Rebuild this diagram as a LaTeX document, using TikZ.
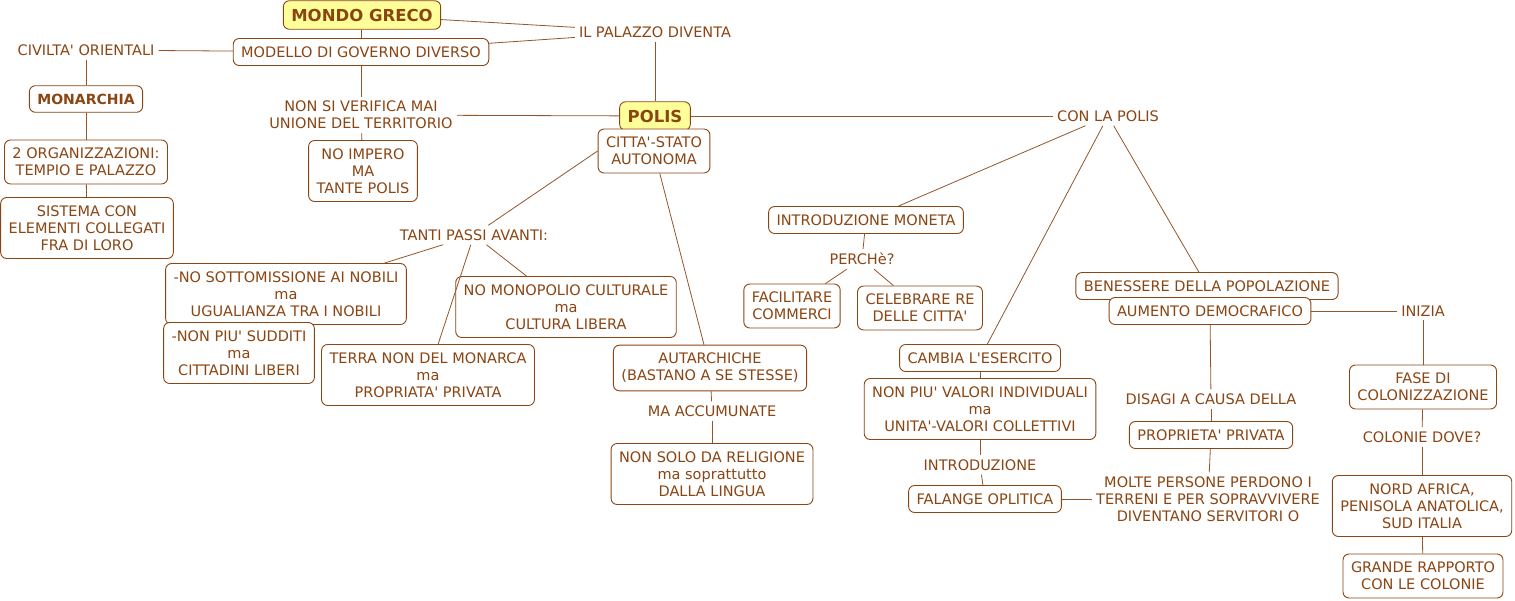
\documentclass[tikz,border=0pt]{standalone}
\usepackage{fontspec}
\setmainfont{DejaVu Sans}[Ligatures=TeXOff]
\usepackage{xcolor}
\usetikzlibrary{positioning}
\definecolor{marrone}{HTML}{8B4513}
\definecolor{filo}{HTML}{93552A}
\definecolor{giallo}{HTML}{FFFF99}

\begin{document}
\begin{tikzpicture}[x=1pt,y=-1pt,
    concetto/.style={draw=marrone,fill=white,rounded corners=6pt,line width=0.9pt,
               inner xsep=8pt,inner ysep=8pt,align=center,text=marrone,
               font=\fontsize{14.5}{17}\selectfont},
    radice/.style={concetto,fill=giallo,font=\fontsize{16.5}{19}\selectfont\bfseries},
    frase/.style={inner sep=4pt,align=center,text=marrone,
               font=\fontsize{14.5}{17}\selectfont},
    collega/.style={draw=filo,line width=0.8pt}]
  \useasboundingbox (0,0) rectangle (1515,600);

  % parte sinistra
  \node[radice] (mondo) at (362,15) {MONDO GRECO};
  \node[concetto] (modello) at (361,52) {MODELLO DI GOVERNO DIVERSO};
  \node[frase] (palazzo) at (655,32) {IL PALAZZO DIVENTA};
  \node[frase] (civilta) at (86,50) {CIVILTA' ORIENTALI};
  \node[concetto,font=\fontsize{14}{17}\selectfont\bfseries] (monarchia) at (86,99) {MONARCHIA};
  \node[concetto] (organiz) at (86,162) {2 ORGANIZZAZIONI:\\TEMPIO E PALAZZO};
  \node[concetto] (sistema) at (87,228) {SISTEMA CON\\ELEMENTI COLLEGATI\\FRA DI LORO};
  \node[frase] (verifica) at (361,115) {NON SI VERIFICA MAI\\UNIONE DEL TERRITORIO};
  \node[concetto] (impero) at (363,171) {NO IMPERO\\MA\\TANTE POLIS};

  % polis
  \node[radice] (polis) at (655,116) {POLIS};
  \node[concetto] (citta) at (654,151) {CITTA'-STATO\\AUTONOMA};
  \node[frase] (conpolis) at (1108,116) {CON LA POLIS};
  \node[frase] (passi) at (474,235) {TANTI PASSI AVANTI:};
  \node[concetto] (nobili) at (286,294) {-NO SOTTOMISSIONE AI NOBILI\\ma\\UGUALIANZA TRA I NOBILI};
  \node[concetto] (sudditi) at (239,353) {-NON PIU' SUDDITI\\ma\\CITTADINI LIBERI};
  \node[concetto] (terra) at (428,375) {TERRA NON DEL MONARCA\\ma\\PROPRIATA' PRIVATA};
  \node[concetto] (cultura) at (566,307) {NO MONOPOLIO CULTURALE\\ma\\CULTURA LIBERA};
  \node[concetto] (autarchiche) at (710,368) {AUTARCHICHE\\(BASTANO A SE STESSE)};
  \node[frase] (accomunate) at (712,411) {MA ACCUMUNATE};
  \node[concetto] (religione) at (712,474) {NON SOLO DA RELIGIONE\\ma soprattutto\\DALLA LINGUA};

  % con la polis
  \node[concetto] (moneta) at (866,220) {INTRODUZIONE MONETA};
  \node[frase] (perche) at (862,259) {PERCHè?};
  \node[concetto] (commerci) at (792,306) {FACILITARE\\COMMERCI};
  \node[concetto] (celebrare) at (920,308) {CELEBRARE RE\\DELLE CITTA'};
  \node[concetto] (esercito) at (980,358) {CAMBIA L'ESERCITO};
  \node[concetto] (valori) at (980,409) {NON PIU' VALORI INDIVIDUALI\\ma\\UNITA'-VALORI COLLETTIVI};
  \node[frase] (introd) at (980,465) {INTRODUZIONE};
  \node[concetto] (falange) at (985,499) {FALANGE OPLITICA};
  \node[concetto] (benessere) at (1207,286) {BENESSERE DELLA POPOLAZIONE};
  \node[concetto] (aumento) at (1210,311) {AUMENTO DEMOCRAFICO};
  \node[frase] (inizia) at (1423,311) {INIZIA};
  \node[frase] (disagi) at (1211,399) {DISAGI A CAUSA DELLA};
  \node[concetto] (proprieta) at (1211,435) {PROPRIETA' PRIVATA};
  \node[frase] (persone) at (1208,499) {MOLTE PERSONE PERDONO I\\TERRENI E PER SOPRAVVIVERE\\DIVENTANO SERVITORI O};
  \node[concetto] (fase) at (1423,387) {FASE DI\\COLONIZZAZIONE};
  \node[frase] (dove) at (1422,437) {COLONIE DOVE?};
  \node[concetto] (nord) at (1422,506) {NORD AFRICA,\\PENISOLA ANATOLICA,\\SUD ITALIA};
  \node[concetto] (rapporto) at (1423,576) {GRANDE RAPPORTO\\CON LE COLONIE};

  \foreach \a/\b in {mondo/palazzo,modello/palazzo,palazzo/polis,mondo/modello,
      civilta/modello,civilta/monarchia,monarchia/organiz,organiz/sistema,
      modello/verifica,verifica/polis,verifica/impero,polis/conpolis,
      citta.west/passi,citta/autarchiche,passi/nobili,passi/terra,passi/cultura,
      autarchiche/accomunate,accomunate/religione,
      conpolis/moneta,conpolis/esercito,conpolis/benessere,
      moneta/perche,perche/commerci,perche/celebrare,
      esercito/valori,valori/introd,introd/falange,falange/persone,
      aumento/inizia,inizia/fase,aumento/disagi,disagi/proprieta,proprieta/persone,
      fase/dove,dove/nord,nord/rapporto}{
    \draw[collega] (\a) -- (\b);
  }
\end{tikzpicture}
\end{document}
